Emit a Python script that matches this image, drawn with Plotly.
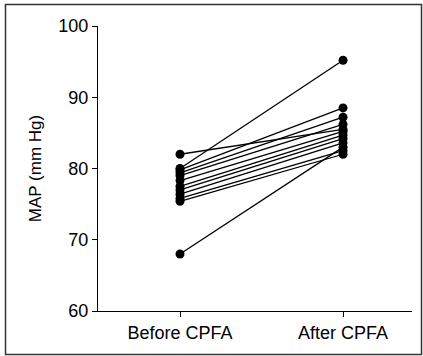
import plotly.graph_objects as go

# Paired mean arterial pressure readings per patient
groups = ["Before CPFA", "After CPFA"]
map_before = [82.0, 80.0, 79.8, 79.4, 79.0, 78.3, 77.5, 77.0, 76.4, 75.8, 75.4, 68.0]
map_after = [85.5, 95.2, 88.5, 87.2, 86.2, 85.2, 84.7, 84.2, 83.6, 82.5, 82.0, 83.0]
y_ticks = [60, 70, 80, 90, 100]

W, H = 423, 356
ml, mr, mt, mb = 98, 11, 26, 45

fig = go.Figure()
for b, a in zip(map_before, map_after):
    fig.add_trace(go.Scatter(
        x=[0, 1], y=[b, a], mode="lines+markers",
        line=dict(color="black", width=1.3),
        marker=dict(color="black", size=9),
        showlegend=False, hoverinfo="skip",
    ))

font = dict(family="Liberation Sans, Arial, sans-serif", size=18, color="#000")

fig.update_layout(
    width=W, height=H,
    margin=dict(l=ml, r=mr, t=mt, b=mb),
    paper_bgcolor="white", plot_bgcolor="white",
    font=font,
    xaxis=dict(
        range=[-0.503, 1.423], tickvals=[0, 1], ticktext=groups,
        showgrid=False, zeroline=False, showline=True, linecolor="black",
        linewidth=1.3, ticks="outside", ticklen=5, tickcolor="black",
        tickwidth=1.3, tickfont=font,
    ),
    yaxis=dict(
        range=[60, 100], tickvals=y_ticks, showgrid=False, zeroline=False,
        showline=True, linecolor="black", linewidth=1.3, ticks="outside",
        ticklen=5, tickcolor="black", tickwidth=1.3, tickfont=font,
        ticksuffix=" ",
        title=dict(text="MAP (mm Hg)", font=dict(family=font["family"], size=17, color="#000"),
                   standoff=12),
    ),
)

# Frame around the whole figure
pw, ph = W - ml - mr, H - mt - mb
fig.add_shape(
    type="rect", xref="paper", yref="paper",
    x0=(5.5 - ml) / pw, x1=(W - 1.5 - ml) / pw,
    y0=(H - 1.5 - (H - mb)) / -ph, y1=((H - mb) - 4.5) / ph,
    line=dict(color="#333", width=1.5), layer="below",
)

fig.write_html("out.html")
